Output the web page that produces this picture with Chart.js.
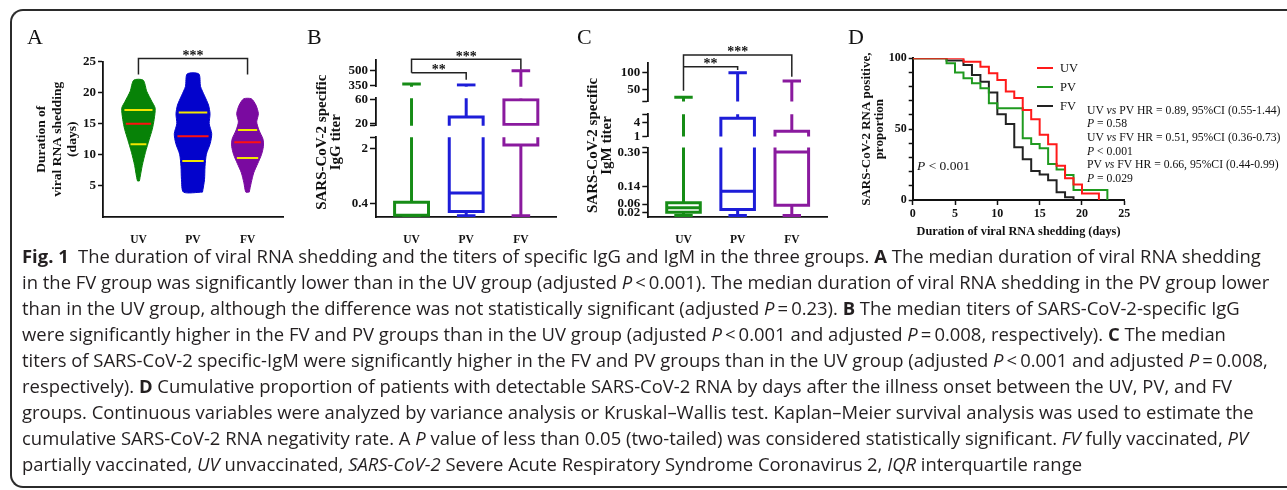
<!DOCTYPE html>
<html>
<head>
<meta charset="utf-8">
<script src="https://cdn.jsdelivr.net/npm/chart.js@4.4.1/dist/chart.umd.min.js"></script>
<style>
  html, body { margin:0; padding:0; background:#fff; }
  body { width:1287px; height:490px; overflow:hidden; position:relative; }
  .frame { position:absolute; left:10px; top:9px; width:1330px; height:479px; border:2px solid #2b2b2b; border-right:none; border-radius:13px 0 0 13px; box-sizing:border-box; }
  .pane { position:absolute; top:0; height:245px; }
  .pane canvas { display:block; }
  .plabel { position:absolute; font-family:'Liberation Serif',serif; font-size:22px; line-height:22px; color:#111; }
  .note { position:absolute; font-family:'Liberation Serif',serif; color:#111; white-space:nowrap; }
  .cap { position:absolute; left:22px; font-family:'Open Sans',sans-serif; color:#231f20; white-space:nowrap; line-height:26px; }
  .cap b { font-weight:700; }
  .lgline { position:absolute; height:2px; width:16px; }
</style>
</head>
<body>
<div class="frame"></div>

<div class="pane" style="left:0;width:290px"><canvas id="cA" width="290" height="245"></canvas></div>
<div class="pane" style="left:290px;width:270px"><canvas id="cB" width="270" height="245"></canvas></div>
<div class="pane" style="left:560px;width:270px"><canvas id="cC" width="270" height="245"></canvas></div>
<div class="pane" style="left:830px;width:457px"><canvas id="cD" width="457" height="245"></canvas></div>

<div class="plabel" style="left:27px;top:26px">A</div>
<div class="plabel" style="left:307px;top:26px">B</div>
<div class="plabel" style="left:577px;top:26px">C</div>
<div class="plabel" style="left:848px;top:26px">D</div>

<!-- legend of panel D -->
<div class="lgline" style="left:1037px;top:67px;background:#ff1a1a"></div>
<div class="note" style="left:1060px;top:60.5px;font-size:12.5px;line-height:14px">UV</div>
<div class="lgline" style="left:1037px;top:86px;background:#1f9a1f"></div>
<div class="note" style="left:1060px;top:79.5px;font-size:12.5px;line-height:14px">PV</div>
<div class="lgline" style="left:1037px;top:105px;background:#222"></div>
<div class="note" style="left:1060px;top:98.8px;font-size:12.5px;line-height:14px">FV</div>

<div class="note" style="left:1087px;top:103.8px;font-size:11.7px;line-height:13.6px">
UV <i>vs</i> PV HR = 0.89, 95%CI (0.55-1.44)<br>
<i>P</i> = 0.58<br>
UV <i>vs</i> FV HR = 0.51, 95%CI (0.36-0.73)<br>
<i>P</i> &lt; 0.001<br>
PV <i>vs</i> FV HR = 0.66, 95%CI (0.44-0.99)<br>
<i>P</i> = 0.029
</div>
<div class="note" style="left:917px;top:158px;font-size:13.5px;line-height:16px"><i>P</i> &lt; 0.001</div>

<script>
// ---------------- DATA ----------------
const groups = ['UV', 'PV', 'FV'];

// Panel A: duration of viral RNA shedding (days) – violin outlines
const uvViolinY = [5.8, 8.3, 10.4, 12.5, 14.1, 15.7, 17.5, 18.6, 20.2, 22];
const uvViolinW = [0.018, 0.07, 0.128, 0.198, 0.253, 0.288, 0.306, 0.244, 0.152, 0.086];
const pvViolinY = [4, 6, 8.1, 10.1, 11.8, 13.4, 15, 16.6, 18, 19.5, 21, 23];
const pvViolinW = [0.174, 0.211, 0.22, 0.245, 0.315, 0.343, 0.297, 0.312, 0.284, 0.211, 0.138, 0.107];
const fvViolinY = [4, 5.5, 7.1, 8.6, 10, 11.3, 12.5, 14, 15.3, 16.6, 18, 19];
const fvViolinW = [0.031, 0.067, 0.113, 0.187, 0.254, 0.29, 0.284, 0.208, 0.168, 0.199, 0.153, 0.07];
const durQ1 = [11.7, 9.0, 9.5];
const durMedian = [15, 13, 12];
const durQ3 = [17.2, 16.8, 14.0];
const durTicks = [5, 10, 15, 20, 25];

// Panel B: SARS-CoV-2 specific IgG titer
const iggMin = [0.03, 0.04, 0.04];
const iggQ1 = [0.05, 0.16, 2.1];
const iggMedian = [0.05, 0.70, 19];
const iggQ3 = [0.43, 31, 59];
const iggMax = [370, 358, 500];
const iggTicksBottom = [0.4, 2];
const iggTicksMid = [20, 60];
const iggTicksTop = [350, 500];

// Panel C: SARS-CoV-2 specific IgM titer
const igmMin = [0.007, 0.007, 0.007];
const igmQ1 = [0.022, 0.035, 0.055];
const igmMedian = [0.043, 0.119, 0.302];
const igmQ3 = [0.066, 4.9, 2.1];
const igmMax = [26, 100, 75];
const igmTicksBottom = [0.02, 0.06, 0.14, 0.30];
const igmTickLabelsBottom = ['0.02', '0.06', '0.14', '0.30'];
const igmTicksMid = [1, 4];
const igmTicksTop = [50, 100];

// Panel D: Kaplan–Meier, proportion still RNA positive (%)
const uvDays = [0, 6, 8, 9, 10, 11, 12, 13, 14, 15, 16, 17, 18, 19, 20, 22];
const uvSurv = [100, 97.6, 94, 89.4, 84.7, 76.5, 72, 63.5, 57, 46, 39.3, 24.2, 15.3, 11, 4.5, 0];
const pvDays = [0, 4, 5, 6, 7, 8, 9, 10, 13, 14, 15, 16, 17, 18, 19, 23];
const pvSurv = [100, 96.5, 90, 86, 82.4, 78.8, 68.2, 64.7, 43.5, 39.5, 36.5, 25.4, 21.6, 17.6, 7.1, 0];
const fvDays = [0, 4, 6, 7, 8, 9, 10, 11, 12, 13, 14, 15, 16, 17, 18, 19];
const fvSurv = [100, 98.5, 95.3, 88.2, 83.5, 75.8, 60.5, 53.6, 37.2, 28.7, 20.5, 18, 14, 5.5, 1.9, 0];
const kmXTicks = [0, 5, 10, 15, 20, 25];
const kmYTicks = [0, 10, 20, 30, 40, 50, 60, 70, 80, 90, 100];
const kmYLabels = [0, 50, 100];

// ---------------- STYLE / HELPERS ----------------
const SERIF = "'Liberation Serif','Times New Roman',serif";
Chart.defaults.font.family = SERIF;
Chart.defaults.color = '#111';
Chart.defaults.animation = false;
Chart.defaults.plugins.legend.display = false;
Chart.defaults.plugins.tooltip.enabled = false;

const violinColors = ['#078207', '#0303cc', '#7a0aa0'];
const boxColors = ['#168c16', '#1d1dd8', '#8a1a9e'];
const INK = '#111';

const textMarks = {
  id: 'textMarks',
  afterDatasetsDraw(chart, args, opts) {
    const ctx = chart.ctx;
    (opts.items || []).forEach(it => {
      const xs = chart.scales[it.xAxisID || 'x'], ys = chart.scales[it.yAxisID || 'y'];
      ctx.save();
      ctx.font = it.font;
      ctx.fillStyle = it.color || INK;
      ctx.textAlign = 'center';
      ctx.textBaseline = 'alphabetic';
      ctx.fillText(it.text, xs.getPixelForValue(it.x), ys.getPixelForValue(it.y) + (it.dy || 0));
      ctx.restore();
    });
  }
};

function bracketPath(brs) {
  const pts = [];
  brs.forEach(b => {
    pts.push({x: b.from, y: b.dropFrom}, {x: b.from, y: b.y}, {x: b.to, y: b.y}, {x: b.to, y: b.dropTo}, {x: b.to, y: null});
  });
  return pts;
}
function starItems(brs, axisId) {
  return brs.map(b => ({x: (b.from + b.to) / 2, y: b.y, yAxisID: axisId, text: b.label, font: 'bold 14px ' + SERIF, dy: 1.5}));
}
const catX = (extra) => Object.assign({
  type: 'linear', min: 0.35, max: 3.65,
  afterBuildTicks: s => { s.ticks = groups.map((g, i) => ({value: i + 1})); },
  ticks: {callback: v => groups[v - 1], font: {size: 11.5, weight: 'bold'}, color: INK, padding: 8, autoSkip: false, maxRotation: 0},
  grid: {display: false},
  border: {display: true, color: INK, width: 1.8},
  afterFit: s => { s.height = 28; }
}, extra || {});

// ---------------- PANEL A ----------------
function interp(ys, ws, y) {
  for (let i = 0; i < ys.length - 1; i++) {
    if (y >= ys[i] && y <= ys[i + 1]) return ws[i] + (ws[i + 1] - ws[i]) * (y - ys[i]) / (ys[i + 1] - ys[i]);
  }
  return ws[ws.length - 1];
}
const violins = [[uvViolinY, uvViolinW], [pvViolinY, pvViolinW], [fvViolinY, fvViolinW]];
function levelLines(vals) {
  const pts = [];
  vals.forEach((v, i) => {
    const [ys, ws] = violins[i];
    const h = 0.85 * interp(ys, ws, v);
    pts.push({x: i + 1 - h, y: v}, {x: i + 1 + h, y: v}, {x: i + 1, y: null});
  });
  return pts;
}
const bracketsA = [{from: 1, to: 3, y: 25.5, dropFrom: 22.9, dropTo: 22.9, label: '***'}];
// first datasets are drawn on top
const dsA = [
  {data: levelLines(durMedian), showLine: true, spanGaps: false, borderColor: '#ff1010', borderWidth: 2, pointRadius: 0},
  {data: levelLines(durQ1).concat(levelLines(durQ3)), showLine: true, spanGaps: false, borderColor: '#f2e600', borderWidth: 2, pointRadius: 0},
  {data: bracketPath(bracketsA), showLine: true, spanGaps: false, borderColor: '#222', borderWidth: 1.5, pointRadius: 0, clip: false}
];
violins.forEach(([ys, ws], i) => {
  const c = i + 1;
  const right = ys.map((y, k) => ({x: c + ws[k], y}));
  const left = ys.map((y, k) => ({x: c - ws[k], y})).reverse();
  dsA.push({data: right.concat(left, [right[0]]), showLine: true, fill: 'shape', tension: 0.25,
    backgroundColor: violinColors[i], borderColor: violinColors[i], borderWidth: 1, pointRadius: 0});
});

new Chart(document.getElementById('cA'), {
  type: 'scatter',
  data: {datasets: dsA},
  options: {
    responsive: false,
    layout: {padding: {left: 29, right: 7, top: 61.5, bottom: 0}},
    plugins: {textMarks: {items: starItems(bracketsA, 'y')}},
    scales: {
      x: catX(),
      y: {
        type: 'linear', min: 0, max: 25,
        afterBuildTicks: s => { s.ticks = durTicks.map(v => ({value: v})); },
        ticks: {font: {size: 13, weight: 'bold'}, color: INK, padding: 2, autoSkip: false},
        grid: {drawOnChartArea: false, drawTicks: true, tickLength: 5, color: INK, tickWidth: 1.5},
        border: {display: true, color: INK, width: 1.8},
        title: {display: true, text: ['Duration of', 'viral RNA shedding', '(days)'], color: INK,
          font: {size: 13.5, weight: 'bold', lineHeight: 1.15}, padding: {top: 5, bottom: 0}},
        afterFit: s => { s.width = 74; }
      }
    }
  },
  plugins: [textMarks]
});

// ---------------- PANELS B & C (broken axes) ----------------
function boxPath(c, lo, q1, med, q3, hi) {
  const bw = 0.31, cw = 0.17;
  const N = {x: c, y: null};
  return [
    {x: c - cw, y: lo}, {x: c + cw, y: lo}, N,
    {x: c, y: lo}, {x: c, y: q1}, N,
    {x: c, y: q1}, {x: c + bw, y: q1}, {x: c + bw, y: q3}, {x: c - bw, y: q3}, {x: c - bw, y: q1}, {x: c, y: q1}, N,
    {x: c - bw, y: med}, {x: c + bw, y: med}, N,
    {x: c, y: q3}, {x: c, y: hi}, N,
    {x: c - cw, y: hi}, {x: c + cw, y: hi}
  ];
}

function boxPanel(canvasId, d) {
  const datasets = [];
  const realSegs = d.segments.filter(s => !s.gap);
  groups.forEach((g, i) => {
    const path = boxPath(i + 1, d.min[i], d.q1[i], d.med[i], d.q3[i], d.max[i]);
    realSegs.forEach(s => datasets.push({
      data: path, yAxisID: s.id, showLine: true, spanGaps: false, borderColor: boxColors[i],
      borderWidth: 3, pointRadius: 0, borderCapStyle: 'butt', borderJoinStyle: 'miter'
    }));
  });
  datasets.push({data: bracketPath(d.brackets), yAxisID: d.bracketAxis, showLine: true, spanGaps: false,
    borderColor: '#222', borderWidth: 1.5, pointRadius: 0, clip: false});

  const scales = {
    x: catX(),
    yTitle: {
      type: 'linear', position: 'left', weight: 20,
      ticks: {display: false}, grid: {display: false}, border: {display: false},
      title: {display: true, text: d.title, color: INK, font: {size: 15, weight: 'bold', lineHeight: 0.97}, padding: {top: 4.75, bottom: 0}},
      afterFit: s => { s.width = d.titleW; }
    }
  };
  const n = d.segments.length;
  d.segments.forEach((seg, k) => {
    if (seg.gap) {
      scales[seg.id] = {
        type: 'linear', position: 'left', stack: 'seg', stackWeight: seg.weight, weight: n - k,
        ticks: {display: false}, grid: {display: false}, border: {display: false},
        afterFit: s => { s.width = d.axisW; }
      };
      return;
    }
    scales[seg.id] = {
      type: 'linear', position: 'left', stack: 'seg', stackWeight: seg.weight, weight: n - k,
      min: seg.min, max: seg.max,
      afterBuildTicks: s => { s.ticks = seg.ticks.concat(seg.caps).map(v => ({value: v})); },
      ticks: {
        autoSkip: false, padding: 2, color: INK, font: {size: 13, weight: 'bold'},
        callback: v => { const j = seg.ticks.indexOf(v); return j >= 0 ? seg.labels[j] : ''; }
      },
      grid: {drawOnChartArea: false, drawTicks: true, tickLength: 6, color: INK, tickWidth: 1.5},
      border: {display: true, color: INK, width: 1.8},
      afterFit: s => { s.width = d.axisW; }
    };
  });

  new Chart(document.getElementById(canvasId), {
    type: 'scatter',
    data: {datasets},
    options: {
      responsive: false,
      layout: {padding: d.padding},
      plugins: {textMarks: {items: starItems(d.brackets, d.bracketAxis)}},
      scales
    },
    plugins: [textMarks]
  });
}

boxPanel('cB', {
  min: iggMin, q1: iggQ1, med: iggMedian, q3: iggQ3, max: iggMax,
  title: ['SARS-CoV-2 specific\u00a0\u00a0', 'IgG titer\u00a0\u00a0'],
  titleW: 36, axisW: 30,
  padding: {left: 20, right: 3.6, top: 60, bottom: 0},
  segments: [
    {id: 'yTop', min: 343, max: 605, weight: 26.7, ticks: iggTicksTop, labels: iggTicksTop.map(String), caps: []},
    {id: 'gap1', gap: true, weight: 11.6},
    {id: 'yMid', min: 16.8, max: 61.6, weight: 27.7, ticks: iggTicksMid, labels: iggTicksMid.map(String), caps: [16.8]},
    {id: 'gap2', gap: true, weight: 11.3},
    {id: 'yBot', min: 0, max: 2.33, weight: 80, ticks: iggTicksBottom, labels: iggTicksBottom.map(String), caps: [2.33]}
  ],
  bracketAxis: 'yTop',
  brackets: [
    {from: 1, to: 3, y: 612, dropFrom: 480, dropTo: 507, label: '***'},
    {from: 1, to: 2, y: 480, dropFrom: 480, dropTo: 410, label: '**'}
  ]
});

boxPanel('cC', {
  min: igmMin, q1: igmQ1, med: igmMedian, q3: igmQ3, max: igmMax,
  title: ['SARS-CoV-2 specific\u00a0\u00a0\u00a0', 'IgM titer\u00a0\u00a0\u00a0'],
  titleW: 37, axisW: 30.3,
  padding: {left: 21, right: 3, top: 62.7, bottom: 0},
  segments: [
    {id: 'yTop', min: 12.8, max: 130, weight: 39, ticks: igmTicksTop, labels: igmTicksTop.map(String), caps: [12.8]},
    {id: 'gap1', gap: true, weight: 12.6},
    {id: 'yMid', min: 1.0, max: 5.8, weight: 22.4, ticks: igmTicksMid, labels: igmTicksMid.map(String), caps: [5.8]},
    {id: 'gap2', gap: true, weight: 11},
    {id: 'yBot', min: 0, max: 0.323, weight: 69.8, ticks: igmTicksBottom, labels: igmTickLabelsBottom, caps: [0.323]}
  ],
  bracketAxis: 'yTop',
  brackets: [
    {from: 1, to: 3, y: 153.3, dropFrom: 45.8, dropTo: 87.6, label: '***'},
    {from: 1, to: 2, y: 118, dropFrom: 118, dropTo: 108, label: '**'}
  ]
});

// ---------------- PANEL D ----------------
const km = (days, surv) => days.map((d, i) => ({x: d, y: surv[i]}));
new Chart(document.getElementById('cD'), {
  type: 'scatter',
  data: {datasets: [
    {data: km(uvDays, uvSurv), showLine: true, stepped: true, borderColor: '#ff1a1a', borderWidth: 2, pointRadius: 0},
    {data: km(pvDays, pvSurv), showLine: true, stepped: true, borderColor: '#1f9a1f', borderWidth: 2, pointRadius: 0},
    {data: km(fvDays, fvSurv), showLine: true, stepped: true, borderColor: '#222', borderWidth: 2, pointRadius: 0}
  ]},
  options: {
    responsive: false,
    layout: {padding: {left: 26, right: 162.7, top: 58.3, bottom: 5}},
    scales: {
      x: {
        type: 'linear', min: 0, max: 25,
        afterBuildTicks: s => { s.ticks = kmXTicks.map(v => ({value: v})); },
        ticks: {font: {size: 12, weight: 'bold'}, color: INK, padding: 2, autoSkip: false, maxRotation: 0},
        grid: {drawOnChartArea: false, drawTicks: true, tickLength: 5, color: INK, tickWidth: 1.5},
        border: {display: true, color: INK, width: 2},
        title: {display: true, text: 'Duration of viral RNA shedding (days)', color: INK,
          font: {size: 12.3, weight: 'bold', lineHeight: 1.2}, padding: {top: 0, bottom: 0.6}},
        afterFit: s => { s.height = 40; }
      },
      y: {
        type: 'linear', min: 0, max: 100,
        afterBuildTicks: s => { s.ticks = kmYTicks.map(v => ({value: v})); },
        ticks: {font: {size: 12, weight: 'bold'}, color: INK, padding: 2, autoSkip: false,
          callback: v => kmYLabels.includes(v) ? String(v) : ''},
        grid: {drawOnChartArea: false, drawTicks: true, tickLength: 4, color: INK, tickWidth: 1.5},
        border: {display: true, color: INK, width: 2},
        title: {display: true, text: ['SARS-CoV-2 RNA positive,', 'proportion'], color: INK,
          font: {size: 13, weight: 'bold', lineHeight: 1.03}, padding: {top: 4, bottom: 0}},
        afterFit: s => { s.width = 56.7; }
      }
    }
  }
});

// ---------------- CAPTION ----------------
const captionLines = [
  '<b>Fig. 1</b>&ensp;The duration of viral RNA shedding and the titers of specific IgG and IgM in the three groups. <b>A</b> The median duration of viral RNA shedding',
  'in the FV group was significantly lower than in the UV group (adjusted <i>P</i>&thinsp;&lt;&thinsp;0.001). The median duration of viral RNA shedding in the PV group lower',
  'than in the UV group, although the difference was not statistically significant (adjusted <i>P</i>&thinsp;=&thinsp;0.23). <b>B</b> The median titers of SARS-CoV-2-specific IgG',
  'were significantly higher in the FV and PV groups than in the UV group (adjusted <i>P</i>&thinsp;&lt;&thinsp;0.001 and adjusted <i>P</i>&thinsp;=&thinsp;0.008, respectively). <b>C</b> The median',
  'titers of SARS-CoV-2 specific-IgM were significantly higher in the FV and PV groups than in the UV group (adjusted <i>P</i>&thinsp;&lt;&thinsp;0.001 and adjusted <i>P</i>&thinsp;=&thinsp;0.008,',
  'respectively). <b>D</b> Cumulative proportion of patients with detectable SARS-CoV-2 RNA by days after the illness onset between the UV, PV, and FV',
  'groups. Continuous variables were analyzed by variance analysis or Kruskal–Wallis test. Kaplan–Meier survival analysis was used to estimate the',
  'cumulative SARS-CoV-2 RNA negativity rate. A <i>P</i> value of less than 0.05 (two-tailed) was considered statistically significant. <i>FV</i> fully vaccinated, <i>PV</i>',
  'partially vaccinated, <i>UV</i> unvaccinated, <i>SARS-CoV-2</i> Severe Acute Respiratory Syndrome Coronavirus 2, <i>IQR</i> interquartile range'
];
const capDivs = captionLines.map(html => {
  const el = document.createElement('div');
  el.className = 'cap';
  el.innerHTML = html;
  el.style.fontSize = '16px';
  document.body.appendChild(el);
  return el;
});
const refW = [0, 1, 4, 7].map(k => capDivs[k].getBoundingClientRect().width);
const meanW = refW.reduce((a, b) => a + b, 0) / refW.length;
const capFs = 16 * 1240 / meanW;
capDivs.forEach((el, k) => {
  el.style.fontSize = capFs.toFixed(2) + 'px';
  el.style.top = (258 + 26 * k - (13 + 0.118 * capFs)).toFixed(1) + 'px';
});
</script>
</body>
</html>
